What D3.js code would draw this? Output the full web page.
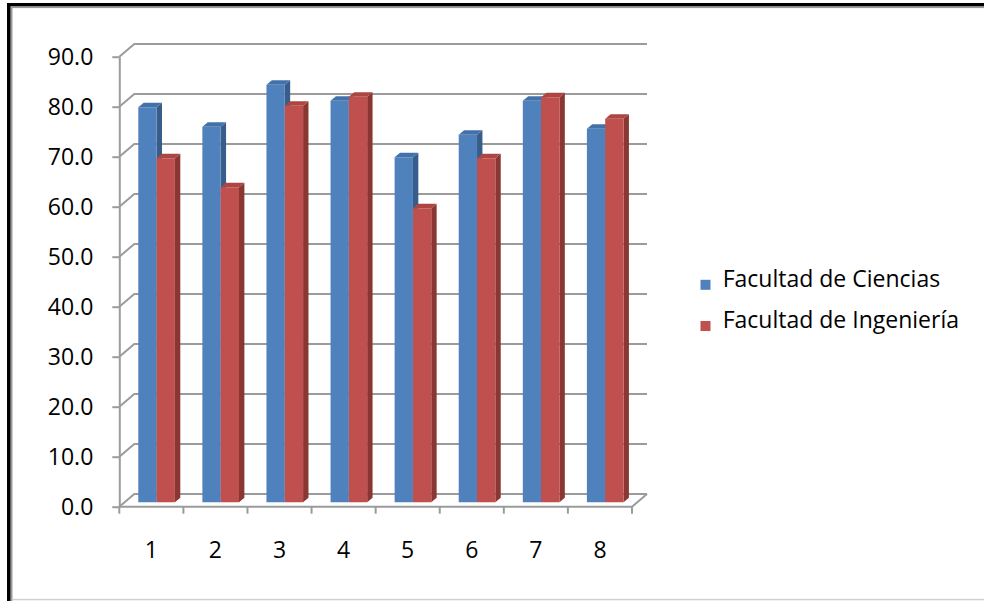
<!DOCTYPE html>
<html>
<head>
<meta charset="utf-8">
<script src="https://cdn.jsdelivr.net/npm/d3@7"></script>
<style>
  html, body { margin: 0; padding: 0; background: #fff; }
  svg { display: block; }
  text { font-family: "Open Sans", "DejaVu Sans", sans-serif; fill: #000; }
</style>
</head>
<body>
<svg id="chart" width="984" height="601"></svg>
<script>
// Data
const categories = ["1", "2", "3", "4", "5", "6", "7", "8"];
const ciencias   = [79.0, 75.1, 83.5, 80.3, 69.0, 73.5, 80.3, 74.7];
const ingenieria = [68.8, 63.0, 79.3, 81.1, 58.8, 68.8, 81.0, 76.7];
const seriesNames = ["Facultad de Ciencias", "Facultad de Ingeniería"];
const yTicks = [0, 10, 20, 30, 40, 50, 60, 70, 80, 90];

const series = [
  { name: seriesNames[0], values: ciencias,   front: "#4f81bd", side: "#385d8a", top: "#4372aa" },
  { name: seriesNames[1], values: ingenieria, front: "#c0504d", side: "#8a3734", top: "#ad4643" }
];

const svg = d3.select("#chart");

// Frame of the chart area
svg.append("rect").attr("x", 7).attr("y", 3).attr("width", 990).attr("height", 3.5).attr("fill", "#000");
svg.append("rect").attr("x", 7).attr("y", 3).attr("width", 3.7).attr("height", 600).attr("fill", "#000");
svg.append("rect").attr("x", 10.7).attr("y", 6.5).attr("width", 980).attr("height", 1.6).attr("fill", "#9a9a9a");
svg.append("rect").attr("x", 10.7).attr("y", 6.5).attr("width", 1.8).attr("height", 600).attr("fill", "#9a9a9a");
svg.append("rect").attr("x", 12).attr("y", 598.8).attr("width", 980).attr("height", 1.5).attr("fill", "#cfcfcf");

// Front plane scales
const left = 119.3, right = 632, bottom = 506.7, topY = 56.7;
const x = d3.scaleBand().domain(categories).range([left, right]);
const y = d3.scaleLinear().domain([0, 90]).range([bottom, topY]);

// Oblique depth vector (full depth of the plot box)
const DX = 15, DY = -12.7;
const gridColor = "#9b9b9b";

// Back wall gridlines with their floor-side diagonals
const grid = svg.append("g");
yTicks.forEach(v => {
  const y0 = y(v);
  grid.append("path")
    .attr("d", `M${left},${y0} L${left + DX},${y0 + DY} L${right + DX},${y0 + DY}`)
    .attr("fill", "none").attr("stroke", gridColor).attr("stroke-width", 2);
});

// Floor front edge and right diagonal
grid.append("path")
  .attr("d", `M${left},${bottom} L${right},${bottom} L${right + DX},${bottom + DY}`)
  .attr("fill", "none").attr("stroke", gridColor).attr("stroke-width", 2);

// Category boundary ticks
const bounds = categories.map(c => x(c)).concat([right]);
grid.selectAll("line.ctick").data(bounds).enter().append("line")
  .attr("x1", d => d).attr("x2", d => d)
  .attr("y1", bottom).attr("y2", bottom + 7)
  .attr("stroke", gridColor).attr("stroke-width", 2);

// Y axis on the front plane
const yAxis = d3.axisLeft(y).tickValues(yTicks).tickFormat(d3.format(".1f"))
  .tickSizeInner(7).tickSizeOuter(0).tickPadding(19);
const gy = svg.append("g").attr("transform", `translate(${left},0)`).call(yAxis);
gy.select(".domain").attr("stroke", gridColor).attr("stroke-width", 2);
gy.selectAll(".tick line").attr("stroke", gridColor).attr("stroke-width", 2);
gy.selectAll(".tick text").style("font-size", "23px").attr("fill", "#000");

// X axis labels
const xAxis = d3.axisBottom(x).tickSize(0).tickPadding(35);
const gx = svg.append("g").attr("transform", `translate(0,${bottom})`).call(xAxis);
gx.select(".domain").remove();
gx.selectAll(".tick text").style("font-size", "23px").attr("fill", "#000");

// Bars: placed at a fraction of the depth, with their own depth
const fDepth = 0.35, fBar = 0.36;
const ox = DX * fDepth, oy = DY * fDepth;
const bx = DX * fBar, by = DY * fBar;
const inner = d3.scaleBand().domain([0, 1]).range([0, x.bandwidth() * 2 / 3.5]);
const groupPad = (x.bandwidth() - x.bandwidth() * 2 / 3.5) / 2;

const bars = svg.append("g");
categories.forEach((c, i) => {
  series.forEach((s, k) => {
    const x0 = x(c) + groupPad + inner(k) + ox;
    const x1 = x0 + inner.bandwidth();
    const yb = y(0) + oy;
    const yt = y(s.values[i]) + oy;
    const g = bars.append("g");
    // right side face
    g.append("path")
      .attr("d", `M${x1},${yb} L${x1 + bx},${yb + by} L${x1 + bx},${yt + by} L${x1},${yt} Z`)
      .attr("fill", s.side);
    // top face
    g.append("path")
      .attr("d", `M${x0},${yt} L${x0 + bx},${yt + by} L${x1 + bx},${yt + by} L${x1},${yt} Z`)
      .attr("fill", s.top);
    // front face
    g.append("rect")
      .attr("x", x0).attr("y", yt)
      .attr("width", inner.bandwidth()).attr("height", yb - yt)
      .attr("fill", s.front);
  });
});

// Legend
const legend = svg.append("g");
const legendY = [284.8, 326];
series.forEach((s, k) => {
  legend.append("rect")
    .attr("x", 700.5).attr("y", legendY[k] - 5)
    .attr("width", 10).attr("height", 10)
    .attr("fill", s.front);
  legend.append("text")
    .attr("x", 722.7).attr("y", legendY[k] + 2)
    .style("font-size", "23px")
    .text(s.name);
});
</script>
</body>
</html>
